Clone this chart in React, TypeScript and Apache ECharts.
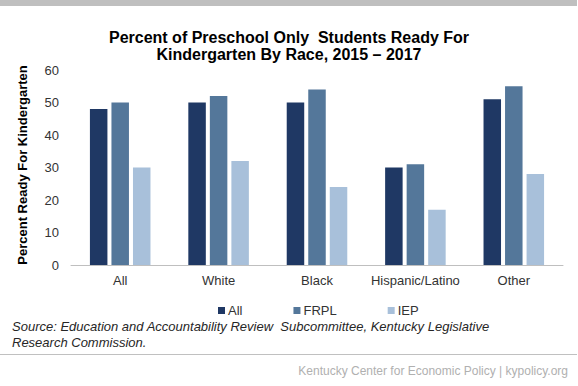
import React, { useEffect, useRef } from "react";
import * as echarts from "echarts";

const categories = ["All", "White", "Black", "Hispanic/Latino", "Other"];
const seriesNames = ["All", "FRPL", "IEP"];
const allValues = [48, 50, 50, 30, 51];
const frplValues = [50, 52, 54, 31, 55];
const iepValues = [30, 32, 24, 17, 28];
const yTicks = { min: 0, max: 60, interval: 10 };
const colors = ["#1f3864", "#54779a", "#a8c0da"];

const titleLines = [
  "Percent of Preschool Only  Students Ready For",
  "Kindergarten By Race, 2015 \u2013 2017",
];
const yAxisTitle = "Percent Ready For Kindergarten";
const sourceLines = [
  "Source: Education and Accountability Review  Subcommittee, Kentucky Legislative",
  "Research Commission.",
];
const footerText = "Kentucky Center for Economic Policy | kypolicy.org";

const FONT = "'Liberation Sans', Arial, sans-serif";

export default function App() {
  const ref = useRef<HTMLDivElement>(null);
  useEffect(() => {
    if (!ref.current) return;
    const chart = echarts.init(ref.current, null, { renderer: "svg" });
    const values = [allValues, frplValues, iepValues];
    chart.setOption({
      animation: false,
      backgroundColor: "#ffffff",
      textStyle: { fontFamily: FONT },
      grid: { left: 71, right: 15, top: 70, bottom: 121, containLabel: false },
      legend: {
        data: seriesNames,
        left: 213,
        top: 299,
        icon: "rect",
        itemWidth: 7,
        itemHeight: 7,
        itemGap: 51,
        textStyle: { fontFamily: FONT, fontSize: 13, color: "#333333", padding: [0, 0, 0, -2] },
      },
      xAxis: {
        type: "category",
        data: categories,
        axisLine: { show: true, lineStyle: { color: "#bfbfbf", width: 1 } },
        axisTick: { show: false },
        axisLabel: { fontFamily: FONT, fontSize: 13, color: "#333333", margin: 9, interval: 0 },
      },
      yAxis: {
        type: "value",
        min: yTicks.min,
        max: yTicks.max,
        interval: yTicks.interval,
        axisLine: { show: false },
        axisTick: { show: false },
        splitLine: { show: false },
        axisLabel: { fontFamily: FONT, fontSize: 13, color: "#333333", margin: 12 },
      },
      series: seriesNames.map((name, i) => ({
        name,
        type: "bar",
        data: values[i],
        barWidth: 17.5,
        barGap: "23%",
        itemStyle: { color: colors[i] },
      })),
      graphic: [
        { type: "rect", shape: { x: 0, y: 0, width: 577, height: 6 }, style: { fill: "#bfbfbf" } },
        {
          type: "text",
          x: 289,
          y: 37,
          style: {
            text: titleLines[0],
            font: `bold 16px ${FONT}`,
            fill: "#000000",
            textAlign: "center",
            textVerticalAlign: "middle",
          },
        },
        {
          type: "text",
          x: 289,
          y: 54,
          style: {
            text: titleLines[1],
            font: `bold 16px ${FONT}`,
            fill: "#000000",
            textAlign: "center",
            textVerticalAlign: "middle",
          },
        },
        {
          type: "text",
          x: 22,
          y: 165,
          rotation: Math.PI / 2,
          style: {
            text: yAxisTitle,
            font: `bold 13px ${FONT}`,
            fill: "#000000",
            textAlign: "center",
            textVerticalAlign: "middle",
          },
        },
        {
          type: "text",
          x: 12,
          y: 326,
          style: {
            text: sourceLines[0],
            font: `italic 13px ${FONT}`,
            fill: "#262626",
            textAlign: "left",
            textVerticalAlign: "middle",
          },
        },
        {
          type: "text",
          x: 12,
          y: 342,
          style: {
            text: sourceLines[1],
            font: `italic 13px ${FONT}`,
            fill: "#262626",
            textAlign: "left",
            textVerticalAlign: "middle",
          },
        },
        {
          type: "line",
          shape: { x1: 0, y1: 354.5, x2: 577, y2: 354.5 },
          style: { stroke: "#c0c0c0", lineWidth: 1 },
        },
        {
          type: "text",
          x: 568,
          y: 371,
          style: {
            text: footerText,
            font: `12px ${FONT}`,
            fill: "#b0b0b0",
            textAlign: "right",
            textVerticalAlign: "middle",
          },
        },
      ],
    });
    return () => chart.dispose();
  }, []);
  return (
    <div
      ref={ref}
      style={{ position: "absolute", left: 0, top: 0, width: 578, height: 386 }}
    />
  );
}
